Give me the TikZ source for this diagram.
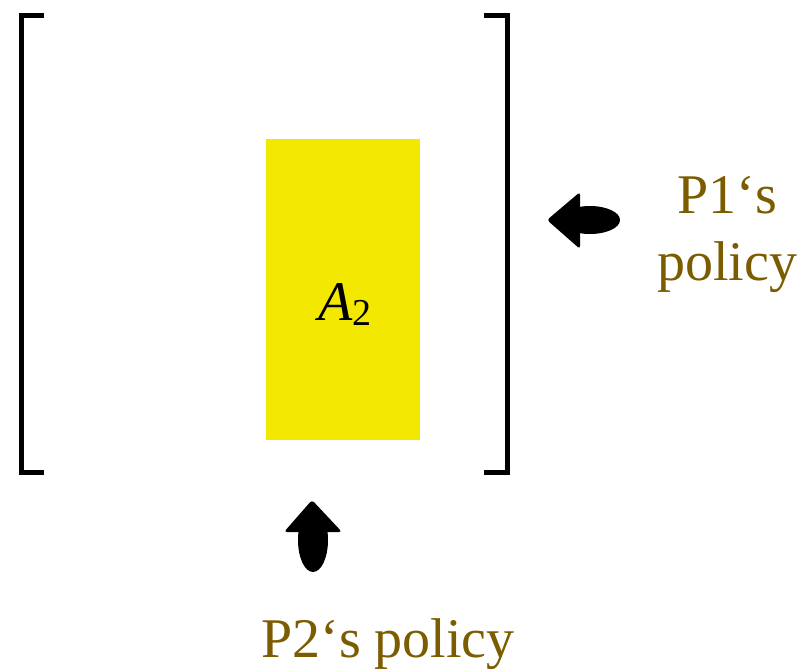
\documentclass[tikz,border=0pt]{standalone}
\usepackage{fontspec}
\setmainfont{Liberation Serif}
\usepackage{tikz}

\definecolor{policybrown}{RGB}{124,92,0}
\definecolor{boxyellow}{RGB}{243,232,0}

\begin{document}
\begin{tikzpicture}[x=1pt, y=-1pt, font=\fontsize{56}{67}\selectfont]
  \useasboundingbox (0,0) rectangle (803,670);
  % brackets
  \draw[line width=5pt] (44,15.5) -- (21.5,15.5) -- (21.5,472.5) -- (44,472.5);
  \draw[line width=5pt] (484,15.5) -- (507.5,15.5) -- (507.5,472.5) -- (484,472.5);
  % the block
  \fill[boxyellow] (266,139) rectangle (420,440);
  \node (a2) at (345,305) {\textit{A}\raisebox{-5pt}{\fontsize{38}{40}\selectfont 2}};
  % P1 arrow (points left)
  \fill (590,220) ellipse [x radius=30, y radius=14];
  \fill[rounded corners=3pt] (547,220) -- (580,192) -- (580,249) -- cycle;
  % P2 arrow (points up)
  \fill (313,540) ellipse [x radius=15, y radius=32];
  \fill[rounded corners=3pt] (312,500) -- (342,532) -- (284,532) -- cycle;
  \node[anchor=base, policybrown] (p1a) at (727,213) {P1‘s};
  \node[anchor=base, policybrown] (p1b) at (727,280) {policy};
  \node[anchor=base, policybrown] (p2) at (388,657) {P2‘s policy};
\end{tikzpicture}
\end{document}
